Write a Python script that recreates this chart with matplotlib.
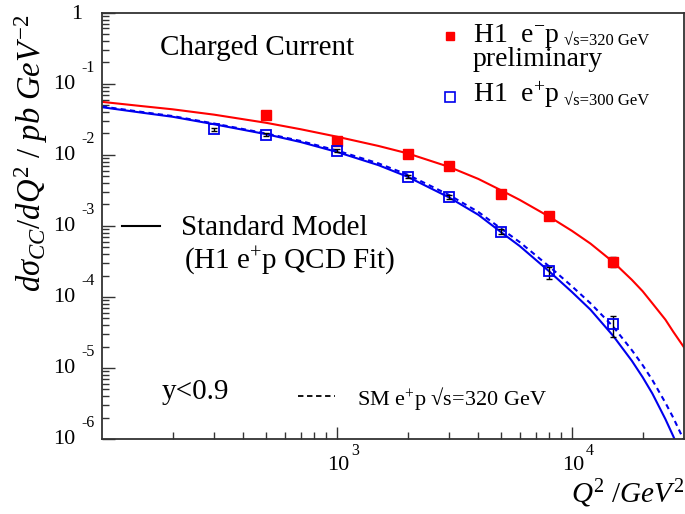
import matplotlib
matplotlib.use('Agg')
import matplotlib.pyplot as plt
import matplotlib.transforms as mtransforms
import numpy as np
from matplotlib.ticker import FixedLocator, NullFormatter

plt.rcParams['font.family'] = ['Liberation Serif', 'DejaVu Serif']
plt.rcParams['mathtext.fontset'] = 'custom'
plt.rcParams['mathtext.rm'] = 'Liberation Serif'
plt.rcParams['mathtext.it'] = 'Liberation Serif:italic'
plt.rcParams['mathtext.bf'] = 'Liberation Serif:bold'

# ---------------- data ----------------
em_q2 = [500, 1000, 2000, 3000, 5000, 8000, 15000]
em_xsec = [3.63e-2, 1.58e-2, 1.03e-2, 6.95e-3, 2.81e-3, 1.39e-3, 3.13e-4]
em_lo = [3.45e-2, 1.50e-2, 9.8e-3, 6.6e-3, 2.65e-3, 1.30e-3, 2.61e-4]
em_hi = [3.81e-2, 1.66e-2, 1.08e-2, 7.3e-3, 2.97e-3, 1.48e-3, 3.68e-4]

ep_q2 = [300, 500, 1000, 2000, 3000, 5000, 8000, 15000]
ep_xsec = [2.29e-2, 1.92e-2, 1.14e-2, 4.92e-3, 2.57e-3, 8.28e-4, 2.32e-4, 4.11e-5]
ep_lo = [2.17e-2, 1.82e-2, 1.08e-2, 4.65e-3, 2.42e-3, 7.6e-4, 1.79e-4, 2.70e-5]
ep_hi = [2.41e-2, 2.02e-2, 1.20e-2, 5.19e-3, 2.72e-3, 9.0e-4, 2.66e-4, 5.43e-5]

curve_q2 = [100, 150, 200, 300, 500, 700, 1000, 1500, 2000, 3000, 4000, 5000,
            6000, 8000, 10000, 12000, 15000, 18000, 20000, 22000, 25000, 27000, 30000]
sm_em_log = [-1.255, -1.317, -1.36, -1.435, -1.55, -1.64, -1.745, -1.875, -1.98, -2.17,
             -2.34, -2.50, -2.635, -2.87, -3.07, -3.25, -3.51, -3.76, -3.92, -4.09,
             -4.32, -4.49, -4.71]
sm_ep_log = [-1.33, -1.41, -1.465, -1.57, -1.71, -1.82, -1.96, -2.145, -2.31, -2.60,
             -2.845, -3.09, -3.285, -3.64, -3.93, -4.18, -4.55, -4.90, -5.13, -5.36,
             -5.72, -5.96, -6.32]
sm_ep320_log = [-1.32, -1.40, -1.455, -1.56, -1.70, -1.805, -1.94, -2.12, -2.28, -2.565,
                -2.805, -3.04, -3.23, -3.57, -3.85, -4.09, -4.42, -4.75, -4.96, -5.17,
                -5.49, -5.70, -6.02]

x_major = [1e3, 1e4]
y_major_exp = [0, -1, -2, -3, -4, -5, -6]

sm_em = 10.0 ** np.array(sm_em_log)
sm_ep = 10.0 ** np.array(sm_ep_log)
sm_ep320 = 10.0 ** np.array(sm_ep320_log)

# ---------------- figure ----------------
W, H = 685, 514
fig = plt.figure(figsize=(W / 100, H / 100), dpi=100)
L, R, T, B = 102, 684, 12.7, 439
ax = fig.add_axes([L / W, 1 - B / H, (R - L) / W, (B - T) / H])

def fx(px):
    return px / W

def fy(py):
    return 1 - py / H

red = '#ff0000'
blue = '#0000ee'

ax.plot(curve_q2, sm_em, color=red, lw=1.5, zorder=2)
ax.plot(curve_q2, sm_ep, color=blue, lw=1.5, zorder=2)
ax.plot(curve_q2, sm_ep320, color=blue, lw=1.5, ls=(0, (2.5, 2)), zorder=2)

em_err = [np.array(em_xsec) - np.array(em_lo), np.array(em_hi) - np.array(em_xsec)]
ep_err = [np.array(ep_xsec) - np.array(ep_lo), np.array(ep_hi) - np.array(ep_xsec)]
ax.errorbar(em_q2, em_xsec, yerr=em_err, fmt='none', ecolor='black', elinewidth=1.0,
            capsize=2.5, capthick=1.0, zorder=3)
ax.errorbar(ep_q2, ep_xsec, yerr=ep_err, fmt='none', ecolor='black', elinewidth=1.0,
            capsize=2.5, capthick=1.0, zorder=3)
ax.plot(em_q2, em_xsec, ls='none', marker='s', ms=7, mfc=red, mec=red, zorder=4)
ax.plot(ep_q2, ep_xsec, ls='none', marker='s', ms=7.3, mfc='none', mec=blue, mew=1.3, zorder=4)

ax.set_xscale('log')
ax.set_yscale('log')
ax.set_xlim(100, 30000)
ax.set_ylim(1e-6, 1)

ax.xaxis.set_major_locator(FixedLocator(x_major))
ax.xaxis.set_minor_locator(FixedLocator([m * 10 ** k for k in (2, 3, 4) for m in range(2, 10)
                                          if m * 10 ** k < 30000]))
ax.xaxis.set_major_formatter(NullFormatter())
ax.xaxis.set_minor_formatter(NullFormatter())
ax.yaxis.set_major_locator(FixedLocator([10.0 ** k for k in y_major_exp]))
ax.yaxis.set_minor_locator(FixedLocator([m * 10.0 ** k for k in range(-6, 0) for m in range(2, 10)]))
ax.yaxis.set_major_formatter(NullFormatter())
ax.yaxis.set_minor_formatter(NullFormatter())

ax.tick_params(which='both', direction='in', top=False, right=False, colors='#333333')
ax.tick_params(which='major', length=9, width=1.0)
ax.tick_params(which='minor', length=5, width=1.0)
for s in ax.spines.values():
    s.set_color('#333333')
    s.set_linewidth(1.3)

# ROOT-style tick labels ("10" with a raised exponent)
base_fs = 16
exp_fs = 11.5
ytr = ax.get_yaxis_transform()
xtr = ax.get_xaxis_transform()
for k in y_major_exp:
    v = 10.0 ** k
    if k == 0:
        t = mtransforms.offset_copy(ytr, fig=fig, x=-20, y=-2, units='dots')
        ax.text(0, v, '1', transform=t, fontsize=base_fs, ha='right', va='center', clip_on=False)
        continue
    t1 = mtransforms.offset_copy(ytr, fig=fig, x=-27, y=-1, units='dots')
    ax.text(0, v, '10', transform=t1, fontsize=base_fs, ha='right', va='center', clip_on=False)
    t2 = mtransforms.offset_copy(ytr, fig=fig, x=-21, y=16, units='dots')
    ax.text(0, v, '%d' % k, transform=t2, fontsize=exp_fs, ha='left', va='center', clip_on=False)
for v in x_major:
    k = int(round(np.log10(v)))
    t1 = mtransforms.offset_copy(xtr, fig=fig, x=1.5, y=-27, units='dots')
    ax.text(v, 0, '10', transform=t1, fontsize=base_fs, ha='center', va='center', clip_on=False)
    t2 = mtransforms.offset_copy(xtr, fig=fig, x=14, y=-12, units='dots')
    ax.text(v, 0, '%d' % k, transform=t2, fontsize=exp_fs, ha='left', va='center', clip_on=False)

# ---------------- texts ----------------
big = 21
leg = 20
fig.text(fx(160), fy(55), 'Charged Current', fontsize=big, va='baseline', ha='left')

# legend
fig.lines.append(plt.Line2D([fx(450)], [fy(36)], marker='s', ms=5.6, mfc=red, mec=red,
                            ls='none', transform=fig.transFigure))
fig.lines.append(plt.Line2D([fx(450)], [fy(96.5)], marker='s', ms=7, mfc='none', mec=blue,
                            mew=1.2, ls='none', transform=fig.transFigure))
t_em = fig.text(fx(473), fy(42), r'H1  e$^{-}$p', fontsize=leg, va='baseline', ha='left')
fig.text(fx(473), fy(66.5), 'preliminary', fontsize=leg, va='baseline', ha='left')
t_ep = fig.text(fx(473), fy(102), r'H1  e$^{+}$p', fontsize=leg, va='baseline', ha='left')

fig.canvas.draw()
r = fig.canvas.get_renderer()
x_em = t_em.get_window_extent(r).x1 + 4
x_ep = t_ep.get_window_extent(r).x1 + 4
fig.text(max(x_em, 562) / W, fy(45), '√s=320 GeV', fontsize=12, va='baseline', ha='left')
fig.text(max(x_ep, 562) / W, fy(105.5), '√s=300 GeV', fontsize=12, va='baseline', ha='left')

# model legend
fig.lines.append(plt.Line2D([fx(122), fx(160)], [fy(226), fy(226)], color='black', lw=1.5,
                            transform=fig.transFigure))
fig.text(fx(181), fy(235), 'Standard Model', fontsize=big, va='baseline', ha='left')
fig.text(fx(184), fy(268), r'(H1 e$^{+}$p QCD Fit)', fontsize=big, va='baseline', ha='left')
fig.text(fx(162), fy(399), 'y<0.9', fontsize=big, va='baseline', ha='left')
fig.lines.append(plt.Line2D([fx(298), fx(335)], [fy(396), fy(396)], color='black', lw=1.3,
                            ls=(0, (3, 2)), transform=fig.transFigure))
fig.text(fx(357), fy(405), r'SM e$^{+}$p √s=320 GeV', fontsize=16, va='baseline', ha='left')

# axis titles
fig.text(fx(684), fy(503), r'$\mathit{Q}^{2}\ \mathit{/GeV}^{2}$', fontsize=big,
         va='baseline', ha='right')
fig.text(fx(31), fy(15), r'$\mathit{d}\sigma_{\mathit{CC}}\mathit{/dQ}^{2}\ \mathit{/\ pb\ GeV}^{-2}$',
         fontsize=23.5, rotation=90, va='top', ha='center')

fig.savefig('out.png', dpi=100)
